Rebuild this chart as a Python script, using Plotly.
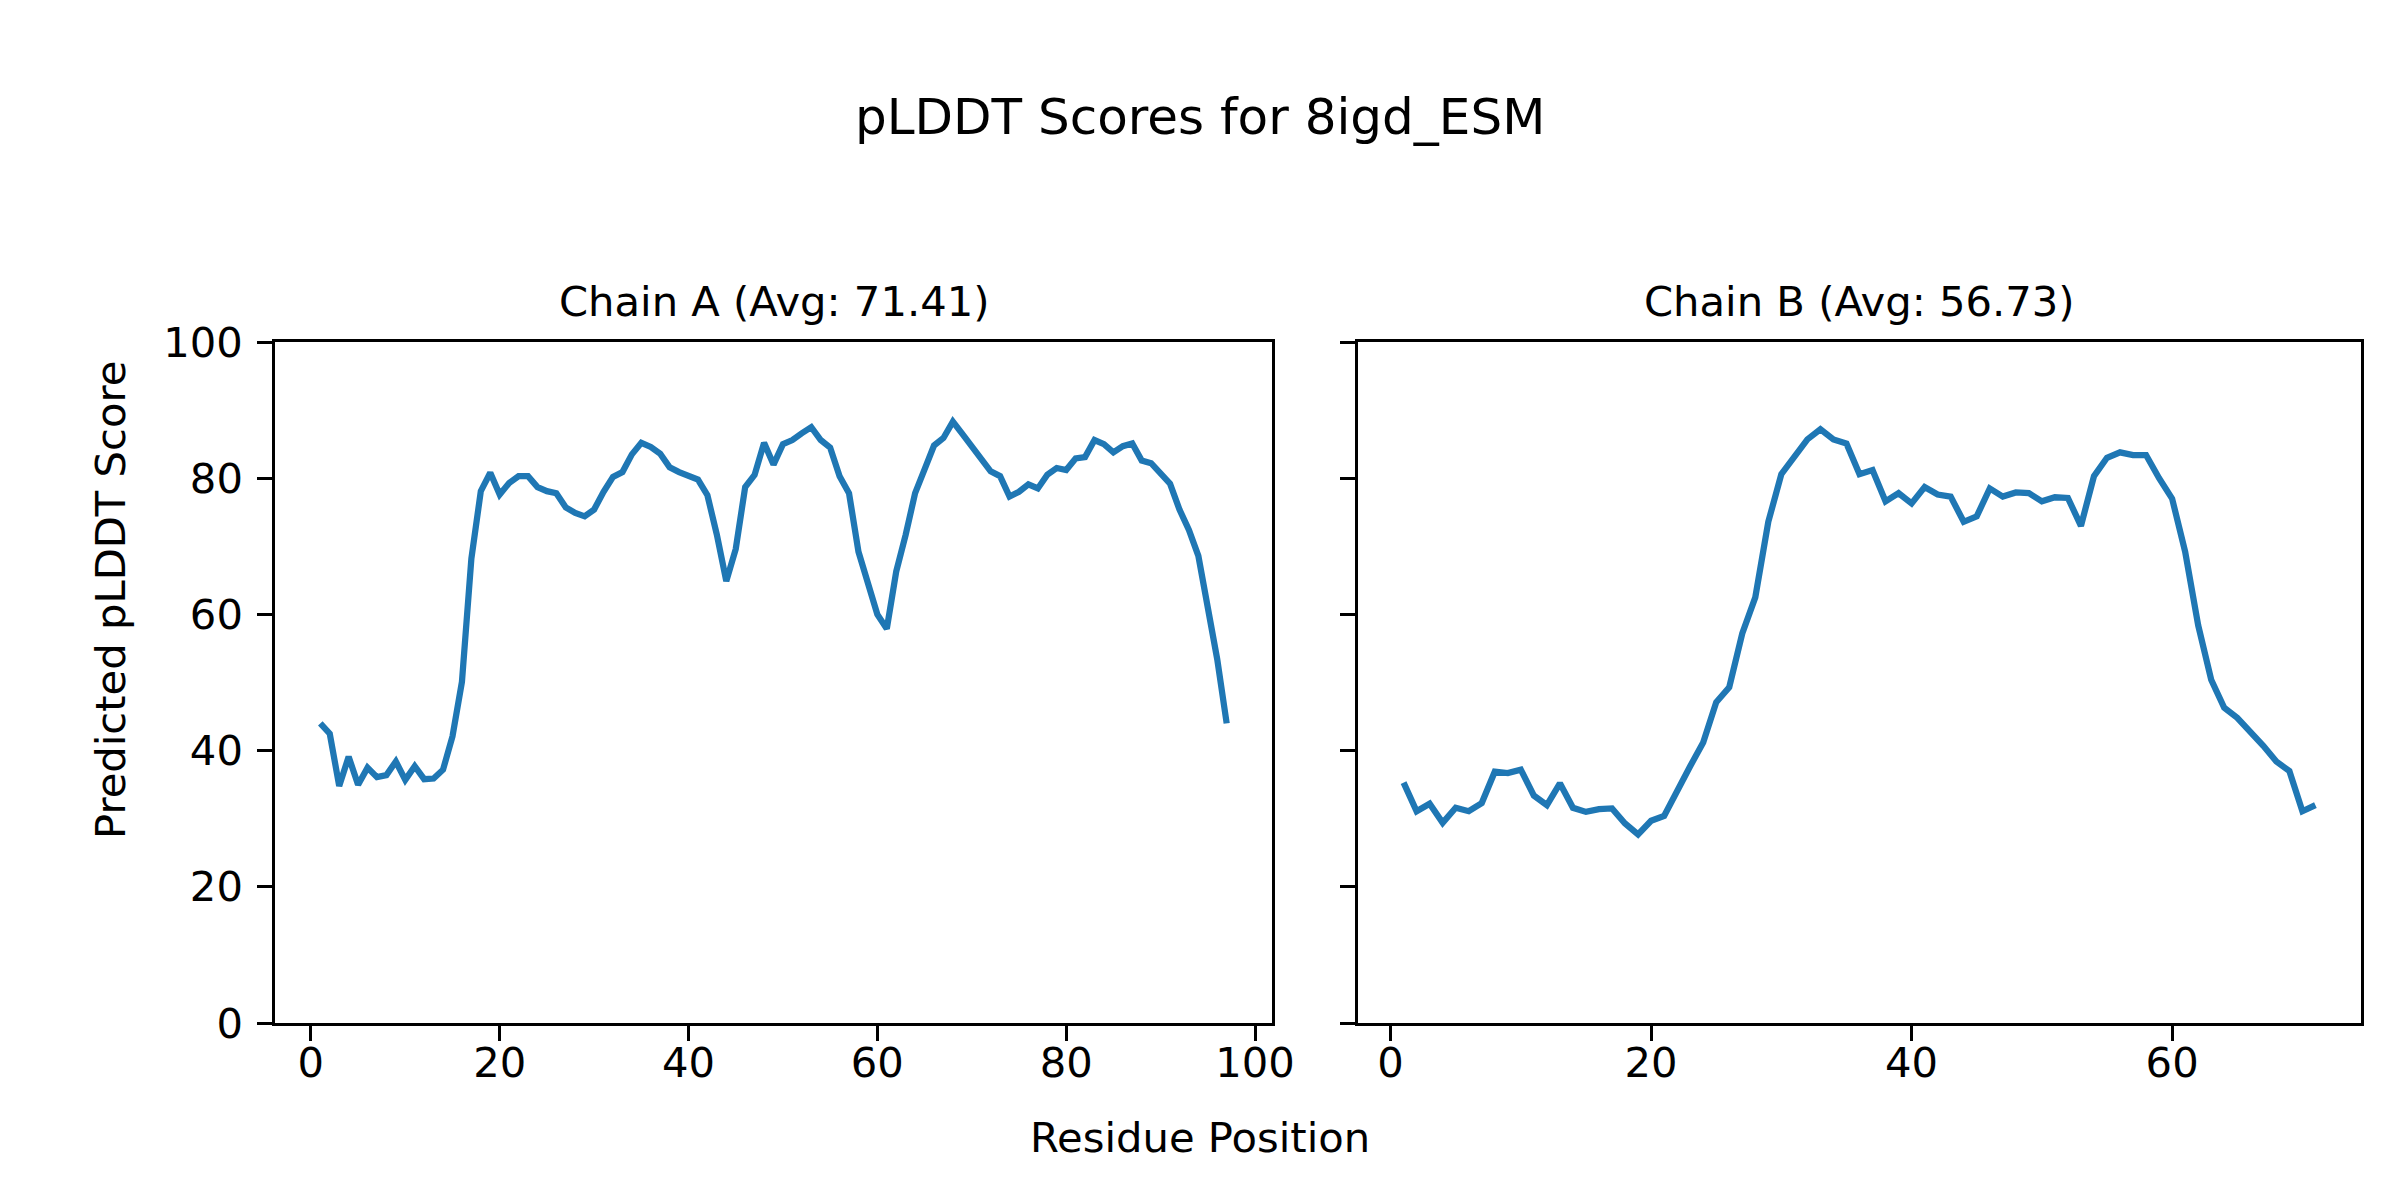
import plotly.graph_objects as go

suptitle = "pLDDT Scores for 8igd_ESM"
title_a = "Chain A (Avg: 71.41)"
title_b = "Chain B (Avg: 56.73)"
xlabel = "Residue Position"
ylabel = "Predicted pLDDT Score"

chain_a_scores = [
    44.0, 42.5, 34.8, 39.1, 35.0, 37.5, 36.1, 36.4, 38.4, 35.7,
    37.7, 35.8, 35.9, 37.2, 42.1, 50.1, 68.2, 78.1, 80.8, 77.6,
    79.3, 80.3, 80.3, 78.7, 78.1, 77.8, 75.7, 74.9, 74.4, 75.4,
    78.0, 80.2, 80.9, 83.5, 85.2, 84.6, 83.6, 81.6, 80.9, 80.3,
    79.8, 77.5, 71.7, 64.9, 69.6, 78.7, 80.5, 85.2, 82.0, 85.0,
    85.6, 86.6, 87.5, 85.6, 84.5, 80.3, 77.8, 69.2, 64.5, 60.0,
    57.9, 66.3, 71.7, 77.8, 81.3, 84.8, 85.9, 88.3, 86.5, 84.7,
    82.9, 81.0, 80.3, 77.3, 78.0, 79.1, 78.5, 80.5, 81.5, 81.2,
    82.9, 83.1, 85.6, 85.0, 83.8, 84.7, 85.1, 82.6, 82.2, 80.7,
    79.2, 75.4, 72.4, 68.6, 60.9, 53.4, 44.0,
]
chain_b_scores = [
    35.3, 31.1, 32.2, 29.4, 31.6, 31.1, 32.3, 36.9, 36.7, 37.2,
    33.4, 32.0, 35.2, 31.6, 31.0, 31.4, 31.5, 29.3, 27.7, 29.7,
    30.4, 34.2, 37.7, 41.2, 47.1, 49.3, 57.2, 62.5, 73.6, 80.6,
    83.2, 85.7, 87.2, 85.7, 85.1, 80.6, 81.2, 76.6, 77.8, 76.3,
    78.7, 77.6, 77.3, 73.6, 74.4, 78.5, 77.3, 77.9, 77.8, 76.6,
    77.2, 77.1, 73.0, 80.3, 83.0, 83.8, 83.4, 83.4, 80.0, 77.0,
    69.2, 58.4, 50.4, 46.3, 44.8, 42.9, 40.7, 38.4, 37.0, 31.1,
    32.0,
]
chain_a_pos = list(range(1, len(chain_a_scores) + 1))
chain_b_pos = list(range(1, len(chain_b_scores) + 1))

xticks_a = [0, 20, 40, 60, 80, 100]
xticks_b = [0, 20, 40, 60]
yticks = [0, 20, 40, 60, 80, 100]

# page body has an 8px margin; the figure fills the rest of the 2400x1200 window
OFF = 8
W, H = 2400 - 2 * OFF, 1200 - 2 * OFF


def fx(px):
    return (px - OFF) / W


def fy(py):
    return 1 - (py - OFF) / H


FONT = "DejaVu Sans"
FS = 41.7
LINE = "#1f77b4"

fig = go.Figure()
fig.add_trace(go.Scatter(x=chain_a_pos, y=chain_a_scores, mode="lines",
                         line=dict(color=LINE, width=6.25), xaxis="x", yaxis="y",
                         showlegend=False))
fig.add_trace(go.Scatter(x=chain_b_pos, y=chain_b_scores, mode="lines",
                         line=dict(color=LINE, width=6.25), xaxis="x2", yaxis="y2",
                         showlegend=False))

ax_common = dict(showline=True, linecolor="black", linewidth=3.3, mirror=True,
                 ticks="outside", ticklen=14.6, tickwidth=3.3, tickcolor="black",
                 showgrid=False, zeroline=False, automargin=False,
                 tickfont=dict(family=FONT, size=FS, color="black"))

ydom = [fy(1023), fy(342)]
fig.update_layout(
    template="none",
    width=W, height=H,
    margin=dict(l=0, r=0, t=0, b=0, pad=0, autoexpand=False),
    paper_bgcolor="white", plot_bgcolor="white",
    font=dict(family=FONT, size=FS, color="black"),
    showlegend=False,
    xaxis=dict(domain=[fx(275), fx(1272)], range=[-3.8, 101.8],
               tickvals=xticks_a, anchor="y", ticklabelstandoff=-14, **ax_common),
    yaxis=dict(domain=ydom, range=[0, 100], tickvals=yticks, anchor="x",
               ticklabelstandoff=6, **ax_common),
    xaxis2=dict(domain=[fx(1358), fx(2361)], range=[-2.5, 74.5],
                tickvals=xticks_b, anchor="y2", ticklabelstandoff=-14, **ax_common),
    yaxis2=dict(domain=ydom, range=[0, 100], tickvals=yticks, anchor="x2",
                showticklabels=False, **ax_common),
    annotations=[
        dict(text=suptitle, x=fx(1200), y=fy(117), xref="paper", yref="paper",
             xanchor="center", yanchor="middle", showarrow=False,
             font=dict(family=FONT, size=50, color="black")),
        dict(text=title_a, x=fx((275 + 1272) / 2), y=fy(301), xref="paper", yref="paper",
             xanchor="center", yanchor="middle", showarrow=False,
             font=dict(family=FONT, size=FS, color="black")),
        dict(text=title_b, x=fx((1358 + 2361) / 2), y=fy(301), xref="paper", yref="paper",
             xanchor="center", yanchor="middle", showarrow=False,
             font=dict(family=FONT, size=FS, color="black")),
        dict(text=xlabel, x=fx(1200), y=fy(1137), xref="paper", yref="paper",
             xanchor="center", yanchor="middle", showarrow=False,
             font=dict(family=FONT, size=FS, color="black")),
        dict(text=ylabel, x=fx(110), y=fy(600), xref="paper", yref="paper",
             xanchor="center", yanchor="middle", showarrow=False, textangle=-90,
             font=dict(family=FONT, size=FS, color="black")),
    ],
)

fig.write_html("out.html")
